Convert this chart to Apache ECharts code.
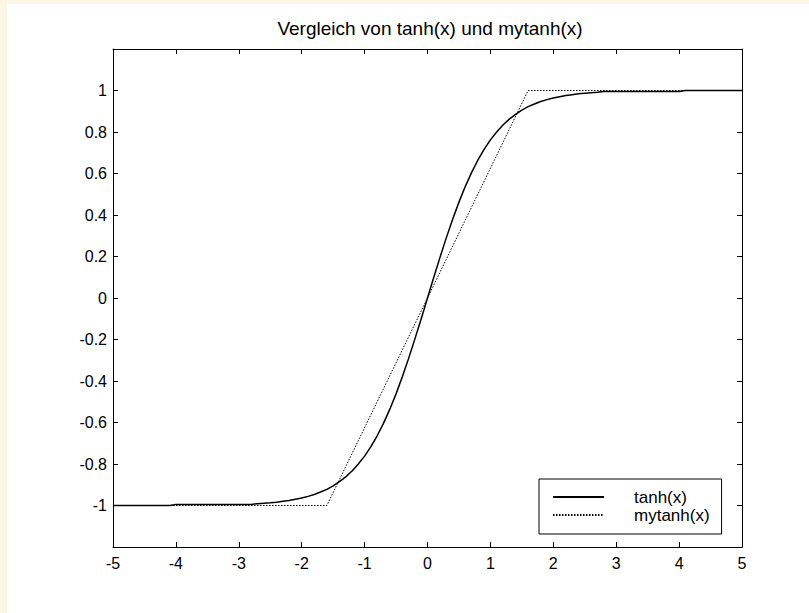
<!DOCTYPE html>
<html>
<head>
<meta charset="utf-8">
<script src="https://cdn.jsdelivr.net/npm/echarts@6/dist/echarts.min.js"></script>
<style>
  html, body { margin: 0; padding: 0; background: #fcf5e3; }
  #chart { position: absolute; left: 7px; top: 4px; width: 802px; height: 609px; background: #ffffff; }
</style>
</head>
<body>
<div id="chart"></div>
<script>
// sample points
var xTanh = [-5, -4.1, -4, -2.8, -2.7, -2.6, -2.5, -2.4, -2.3, -2.2, -2.1, -2, -1.9, -1.8, -1.7, -1.6,
  -1.5, -1.4, -1.3, -1.2, -1.1, -1, -0.9, -0.8, -0.7, -0.6, -0.5, -0.4, -0.3, -0.2, -0.1, 0,
  0.1, 0.2, 0.3, 0.4, 0.5, 0.6, 0.7, 0.8, 0.9, 1, 1.1, 1.2, 1.3, 1.4, 1.5, 1.6, 1.7, 1.8, 1.9,
  2, 2.1, 2.2, 2.3, 2.4, 2.5, 2.6, 2.7, 2.8, 4, 4.1, 5];
var yTanh = [-1, -1, -0.995, -0.995, -0.991, -0.989, -0.987, -0.984, -0.98, -0.976, -0.97, -0.964,
  -0.956, -0.947, -0.935, -0.922, -0.905, -0.885, -0.862, -0.834, -0.8, -0.762, -0.716, -0.664,
  -0.604, -0.537, -0.462, -0.38, -0.291, -0.197, -0.1, 0,
  0.1, 0.197, 0.291, 0.38, 0.462, 0.537, 0.604, 0.664, 0.716, 0.762, 0.8, 0.834, 0.862, 0.885,
  0.905, 0.922, 0.935, 0.947, 0.956, 0.964, 0.97, 0.976, 0.98, 0.984, 0.987, 0.989, 0.991, 0.995,
  0.995, 1, 1];
var xMy = [-5, -1.6, 0, 1.6, 5];
var yMy = [-1, -1, 0, 1, 1];
var seriesNames = ['tanh(x)', 'mytanh(x)'];
var titleText = 'Vergleich von tanh(x) und mytanh(x)';

function pairs(xs, ys) {
  var out = [];
  for (var i = 0; i < xs.length; i++) out.push([xs[i], ys[i]]);
  return out;
}

var font = 'Arial, "Liberation Sans", sans-serif';
var axisCommon = {
  axisLine: { show: true, onZero: false, lineStyle: { color: '#000', width: 1 } },
  axisTick: { show: true, inside: true, length: 5, lineStyle: { color: '#000' } },
  splitLine: { show: false }
};

var chart = echarts.init(document.getElementById('chart'), null, { renderer: 'svg' });
chart.setOption({
  animation: false,
  backgroundColor: '#ffffff',
  title: {
    text: titleText,
    left: 423, top: 15, textAlign: 'center', padding: 0,
    textStyle: { fontFamily: font, fontSize: 19, fontWeight: 'normal', color: '#000' }
  },
  grid: { left: 106, right: 67, top: 45, bottom: 66 },
  legend: {
    data: seriesNames,
    orient: 'vertical',
    left: 532, top: 475,
    padding: [9, 12, 10, 13],
    itemWidth: 51, itemHeight: 18, itemGap: 0,
    backgroundColor: '#fff', borderColor: '#000', borderWidth: 1,
    itemStyle: { color: 'rgba(0,0,0,0)', borderWidth: 0 },
    textStyle: { fontFamily: font, fontSize: 17, lineHeight: 18, color: '#000', padding: [0, 0, 0, 25] }
  },
  xAxis: [
    Object.assign({ type: 'value', min: -5, max: 5, interval: 1, position: 'bottom',
      axisLabel: { fontFamily: font, fontSize: 16, color: '#000', margin: 8 } }, axisCommon),
    Object.assign({ type: 'value', min: -5, max: 5, interval: 1, position: 'top',
      axisLabel: { show: false } }, axisCommon)
  ],
  yAxis: [
    Object.assign({ type: 'value', min: -1.2, max: 1.2, interval: 0.2, position: 'left',
      axisLabel: { fontFamily: font, fontSize: 16, color: '#000', margin: 6,
        showMinLabel: false, showMaxLabel: false } }, axisCommon),
    Object.assign({ type: 'value', min: -1.2, max: 1.2, interval: 0.2, position: 'right',
      axisLabel: { show: false } }, axisCommon)
  ],
  series: [
    {
      name: seriesNames[0], type: 'line', data: pairs(xTanh, yTanh),
      symbol: 'none', lineStyle: { color: '#000', width: 1.5 }, itemStyle: { color: '#000' }
    },
    {
      name: seriesNames[1], type: 'line', data: pairs(xMy, yMy),
      symbol: 'none', lineStyle: { color: '#000', width: 1, type: [1.5, 1.5] }, itemStyle: { color: '#000' }
    }
  ]
});
</script>
</body>
</html>
